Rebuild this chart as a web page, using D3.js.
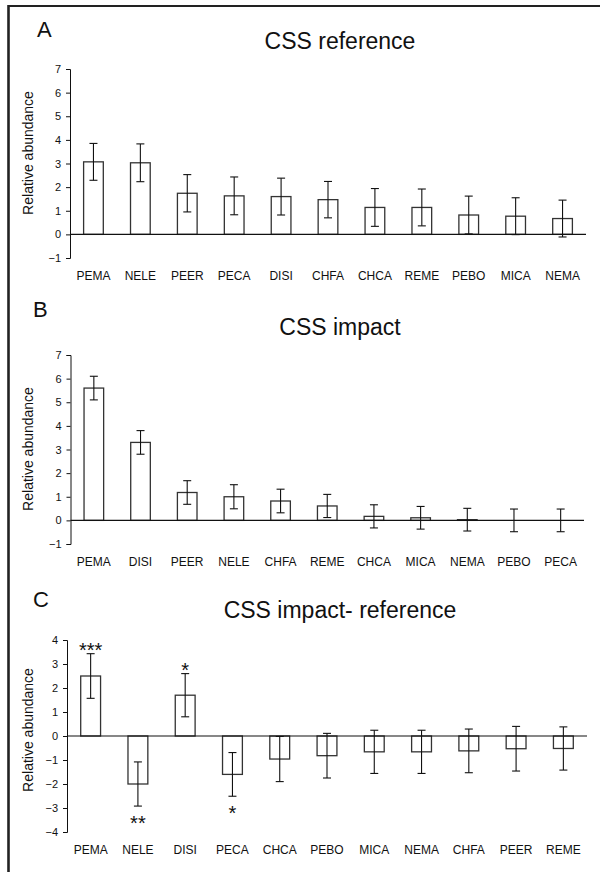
<!DOCTYPE html>
<html>
<head>
<meta charset="utf-8">
<script src="https://cdn.jsdelivr.net/npm/d3@7"></script>
<style>
  body { margin: 0; background: #fff; }
  svg { display: block; font-family: "Liberation Sans", Arial, sans-serif; }
</style>
</head>
<body>
<div id="chart"></div>
<script>
// Panel A - CSS reference
const refSpecies = ['PEMA', 'NELE', 'PEER', 'PECA', 'DISI', 'CHFA', 'CHCA', 'REME', 'PEBO', 'MICA', 'NEMA'];
const refMeans = [3.07, 3.03, 1.74, 1.63, 1.6, 1.47, 1.14, 1.14, 0.82, 0.77, 0.67];
const refErrors = [0.78, 0.8, 0.79, 0.8, 0.78, 0.77, 0.8, 0.78, 0.8, 0.78, 0.78];

// Panel B - CSS impact
const impSpecies = ['PEMA', 'DISI', 'PEER', 'NELE', 'CHFA', 'REME', 'CHCA', 'MICA', 'NEMA', 'PEBO', 'PECA'];
const impMeans = [5.6, 3.3, 1.18, 1.0, 0.82, 0.61, 0.17, 0.11, 0.03, 0, 0];
const impErrors = [0.5, 0.5, 0.5, 0.51, 0.5, 0.49, 0.49, 0.48, 0.48, 0.48, 0.48];

// Panel C - CSS impact minus reference
const diffSpecies = ['PEMA', 'NELE', 'DISI', 'PECA', 'CHCA', 'PEBO', 'MICA', 'NEMA', 'CHFA', 'PEER', 'REME'];
const diffMeans = [2.5, -2.0, 1.7, -1.6, -0.96, -0.82, -0.66, -0.66, -0.62, -0.53, -0.52];
const diffErrors = [0.93, 0.92, 0.9, 0.91, 0.94, 0.93, 0.9, 0.9, 0.91, 0.93, 0.9];
const diffStars = ['***', '**', '*', '*', '', '', '', '', '', '', ''];

// Tick values for the y axes
const ticksAB = [-1, 0, 1, 2, 3, 4, 5, 6, 7];
const ticksC = [-4, -3, -2, -1, 0, 1, 2, 3, 4];

const width = 600;
const height = 872;
const ink = '#111';

const svg = d3.select('#chart')
    .append('svg')
    .attr('width', width)
    .attr('height', height);

// Figure frame (only top and left edges show)
svg.append('line')
    .attr('x1', 8.5).attr('x2', width)
    .attr('y1', 6).attr('y2', 6)
    .attr('stroke', '#222')
    .attr('stroke-width', 2.2);
svg.append('line')
    .attr('x1', 8.5).attr('x2', 8.5)
    .attr('y1', 5).attr('y2', height)
    .attr('stroke', '#222')
    .attr('stroke-width', 2.6);

function drawPanel(opt)
{
    const g = svg.append('g');

    const xScale = d3.scaleBand()
        .domain(opt.species)
        .range([opt.left, opt.right])
        .paddingInner(0.58)
        .paddingOuter(0.29);

    const yScale = d3.scaleLinear()
        .domain(d3.extent(opt.ticks))
        .range([opt.bottom, opt.top]);

    const data = opt.species.map((s, i) => ({
        name: s, mean: opt.means[i], err: opt.errors[i], star: opt.stars ? opt.stars[i] : ''
    }));

    // Bars
    g.selectAll('rect.bar')
        .data(data)
        .enter()
        .append('rect')
        .attr('class', 'bar')
        .attr('x', d => xScale(d.name))
        .attr('y', d => yScale(Math.max(0, d.mean)))
        .attr('width', xScale.bandwidth())
        .attr('height', d => Math.abs(yScale(d.mean) - yScale(0)))
        .attr('fill', '#fff')
        .attr('stroke', '#333')
        .attr('stroke-width', 1.3);

    // Zero line
    g.append('line')
        .attr('x1', opt.left).attr('x2', opt.right)
        .attr('y1', yScale(0)).attr('y2', yScale(0))
        .attr('stroke', ink)
        .attr('stroke-width', 1.1);

    // Error bars
    const cx = d => xScale(d.name) + xScale.bandwidth() / 2;
    const errs = g.selectAll('g.err')
        .data(data)
        .enter()
        .append('g')
        .attr('class', 'err')
        .attr('stroke', ink)
        .attr('stroke-width', 1.1);
    errs.append('line')
        .attr('x1', cx).attr('x2', cx)
        .attr('y1', d => yScale(d.mean + d.err))
        .attr('y2', d => yScale(d.mean - d.err));
    errs.append('line')
        .attr('x1', d => cx(d) - 4).attr('x2', d => cx(d) + 4)
        .attr('y1', d => yScale(d.mean + d.err))
        .attr('y2', d => yScale(d.mean + d.err));
    errs.append('line')
        .attr('x1', d => cx(d) - 4).attr('x2', d => cx(d) + 4)
        .attr('y1', d => yScale(d.mean - d.err))
        .attr('y2', d => yScale(d.mean - d.err));

    // Significance stars
    g.selectAll('text.star')
        .data(data.filter(d => d.star))
        .enter()
        .append('text')
        .attr('class', 'star')
        .attr('x', cx)
        .attr('y', d => d.mean > 0 ? yScale(d.mean + d.err) + 3 : yScale(d.mean - d.err) + 24)
        .attr('text-anchor', 'middle')
        .style('font-size', '20px')
        .attr('fill', ink)
        .text(d => d.star);

    // Y axis
    const yAxis = d3.axisLeft(yScale)
        .tickValues(opt.ticks)
        .tickFormat(d3.format('d'))
        .tickSize(4)
        .tickPadding(5);
    const ya = g.append('g')
        .attr('transform', `translate(${opt.left}, 0)`)
        .call(yAxis);
    ya.select('.domain').attr('stroke', ink);
    ya.selectAll('.tick line').attr('stroke', ink);
    ya.selectAll('text')
        .style('font-size', '11px')
        .style('font-family', '"Liberation Sans", Arial, sans-serif')
        .attr('fill', ink);

    // Category labels
    const xAxis = d3.axisBottom(xScale)
        .tickSize(0)
        .tickPadding(13.5);
    const xa = g.append('g')
        .attr('transform', `translate(0, ${opt.bottom})`)
        .call(xAxis);
    xa.select('.domain').remove();
    xa.selectAll('text')
        .style('font-size', '12px')
        .style('font-family', '"Liberation Sans", Arial, sans-serif')
        .attr('fill', ink);

    // Y label
    g.append('text')
        .attr('transform', 'rotate(-90)')
        .attr('x', -opt.labelY)
        .attr('y', 33)
        .style('text-anchor', 'middle')
        .style('font-size', '14px')
        .attr('fill', ink)
        .text('Relative abundance');

    // Panel letter and title
    g.append('text')
        .attr('x', opt.letterX)
        .attr('y', opt.letterY)
        .style('font-size', '22px')
        .attr('fill', ink)
        .text(opt.letter);

    g.append('text')
        .attr('x', 340)
        .attr('y', opt.titleY)
        .style('text-anchor', 'middle')
        .style('font-size', '23px')
        .attr('fill', ink)
        .text(opt.title);
}

drawPanel({
    letter: 'A', title: 'CSS reference',
    species: refSpecies, means: refMeans, errors: refErrors, ticks: ticksAB,
    left: 70, right: 586, top: 69, bottom: 258,
    letterX: 37, letterY: 37, titleY: 49, labelY: 153
});

drawPanel({
    letter: 'B', title: 'CSS impact',
    species: impSpecies, means: impMeans, errors: impErrors, ticks: ticksAB,
    left: 70.5, right: 584, top: 355, bottom: 544,
    letterX: 33, letterY: 317, titleY: 335, labelY: 449
});

drawPanel({
    letter: 'C', title: 'CSS impact- reference',
    species: diffSpecies, means: diffMeans, errors: diffErrors, stars: diffStars, ticks: ticksC,
    left: 67, right: 587, top: 640, bottom: 832,
    letterX: 33, letterY: 607, titleY: 618, labelY: 730
});
</script>
</body>
</html>
